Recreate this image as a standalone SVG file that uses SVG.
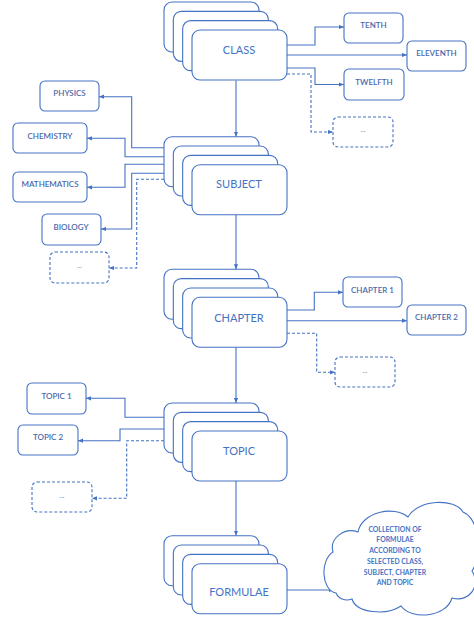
<svg xmlns="http://www.w3.org/2000/svg" width="474" height="617" viewBox="0 0 474 617">
<defs>
<style>
.card{fill:#fff;stroke:#4472C4;stroke-width:1.1}
.box{fill:#fff;stroke:#4472C4;stroke-width:1.1}
.dbox{fill:#fff;stroke:#4472C4;stroke-width:1.1;stroke-dasharray:3 2}
.big{font-family:Lato,"Liberation Sans",sans-serif;font-size:11px;fill:#4472C4;text-anchor:middle}
.sm{font-family:Lato,"Liberation Sans",sans-serif;font-size:8px;fill:#4A68AA;text-anchor:middle;font-weight:600}
.dots{font-family:Lato,"Liberation Sans",sans-serif;font-size:7px;fill:#6A84B8;text-anchor:middle}
.cl{font-family:Lato,"Liberation Sans",sans-serif;font-size:6.8px;fill:#4472C4;text-anchor:middle;font-weight:700}
.ln{fill:none;stroke:#4472C4;stroke-width:1.1}
.dl{fill:none;stroke:#4472C4;stroke-width:1.1;stroke-dasharray:3 2}
</style>
<marker id="a" viewBox="0 0 6 6" refX="6" refY="3" markerWidth="5" markerHeight="5" orient="auto" markerUnits="userSpaceOnUse">
<path d="M0,0.5 L6,3 L0,5.5 Z" fill="#4472C4"/>
</marker>
<g id="stack">
<rect class="card" x="0" y="0" width="95" height="50" rx="8"/>
<rect class="card" x="9.33" y="9.33" width="95" height="50" rx="8"/>
<rect class="card" x="18.67" y="18.67" width="95" height="50" rx="8"/>
<rect class="card" x="28" y="28" width="95" height="50" rx="8"/>
</g>
</defs>
<rect width="474" height="617" fill="#fff"/>

<g id="connectors">
<path class="ln" d="M287,45 H315 V27 H344" marker-end="url(#a)"/>
<path class="ln" d="M287,55 H407" marker-end="url(#a)"/>
<path class="ln" d="M287,68 H315 V84.5 H344" marker-end="url(#a)"/>
<path class="dl" d="M287,74 H311 V132 H333" marker-end="url(#a)"/>
<path class="ln" d="M236,80.5 V136.7" marker-end="url(#a)"/>

<path class="ln" d="M164,147.7 H131.7 V96.7 H99" marker-end="url(#a)"/>
<path class="ln" d="M164,156.7 H125 V138.3 H87" marker-end="url(#a)"/>
<path class="ln" d="M164,164.3 H125 V187.3 H87" marker-end="url(#a)"/>
<path class="ln" d="M164,173.3 H131.7 V229 H101" marker-end="url(#a)"/>
<path class="dl" d="M164,179.3 H136.7 V268 H109" marker-end="url(#a)"/>
<path class="ln" d="M236,214.7 V269.3" marker-end="url(#a)"/>

<path class="ln" d="M287,310 H314.3 V292.3 H343" marker-end="url(#a)"/>
<path class="ln" d="M287,320.7 H407" marker-end="url(#a)"/>
<path class="dl" d="M287,333.3 H316.7 V372.3 H335" marker-end="url(#a)"/>
<path class="ln" d="M236,347.3 V403" marker-end="url(#a)"/>

<path class="ln" d="M164,417.3 H125 V398.3 H86" marker-end="url(#a)"/>
<path class="ln" d="M164,429 H120 V440.7 H78" marker-end="url(#a)"/>
<path class="dl" d="M164,440.7 H126.7 V498.3 H92" marker-end="url(#a)"/>
<path class="ln" d="M236,481 V535.7" marker-end="url(#a)"/>

<path class="ln" d="M287,590 H334" marker-end="url(#a)"/>
</g>

<g id="class">
<use href="#stack" x="164" y="2"/>
<text class="big" x="239" y="54">CLASS</text>
</g>
<g id="tenth"><rect class="box" x="344" y="13" width="59" height="30" rx="5"/><text class="sm" x="373.5" y="28">TENTH</text></g>
<g id="eleventh"><rect class="box" x="407" y="41" width="59" height="30" rx="5"/><text class="sm" x="436.5" y="56">ELEVENTH</text></g>
<g id="twelfth"><rect class="box" x="344" y="69" width="60" height="31" rx="5"/><text class="sm" x="374" y="84.5">TWELFTH</text></g>
<g id="class-more"><rect class="dbox" x="333" y="117" width="60" height="30" rx="5"/><text class="dots" x="363" y="132">...</text></g>

<g id="subject">
<use href="#stack" x="164" y="136.7"/>
<text class="big" x="239" y="188.3">SUBJECT</text>
</g>
<g id="physics"><rect class="box" x="40" y="81" width="59" height="30" rx="5"/><text class="sm" x="69.5" y="96.3">PHYSICS</text></g>
<g id="chemistry"><rect class="box" x="13" y="123" width="74" height="30" rx="5"/><text class="sm" x="50" y="139">CHEMISTRY</text></g>
<g id="mathematics"><rect class="box" x="13" y="172" width="74" height="30" rx="5"/><text class="sm" x="50" y="187">MATHEMATICS</text></g>
<g id="biology"><rect class="box" x="42" y="214" width="59" height="31" rx="5"/><text class="sm" x="71" y="229.7">BIOLOGY</text></g>
<g id="subject-more"><rect class="dbox" x="50" y="252" width="59" height="31" rx="5"/><text class="dots" x="79.5" y="268">...</text></g>

<g id="chapter">
<use href="#stack" x="164" y="269.3"/>
<text class="big" x="239" y="322.3">CHAPTER</text>
</g>
<g id="chapter1"><rect class="box" x="343" y="277" width="59" height="30" rx="5"/><text class="sm" x="372.5" y="292.7">CHAPTER 1</text></g>
<g id="chapter2"><rect class="box" x="407" y="305" width="59" height="30" rx="5"/><text class="sm" x="436.5" y="320">CHAPTER 2</text></g>
<g id="chapter-more"><rect class="dbox" x="335" y="357" width="60" height="30" rx="5"/><text class="dots" x="365" y="372.5">...</text></g>

<g id="topic">
<use href="#stack" x="164" y="403"/>
<text class="big" x="239" y="455">TOPIC</text>
</g>
<g id="topic1"><rect class="box" x="27" y="383" width="59" height="31" rx="5"/><text class="sm" x="56.5" y="398.7">TOPIC 1</text></g>
<g id="topic2"><rect class="box" x="18" y="425" width="60" height="30" rx="5"/><text class="sm" x="48" y="440.3">TOPIC 2</text></g>
<g id="topic-more"><rect class="dbox" x="32" y="482" width="60" height="30" rx="5"/><text class="dots" x="62" y="498">...</text></g>

<g id="formulae">
<use href="#stack" x="164" y="535.7"/>
<text class="big" x="239" y="596.3">FORMULAE</text>
</g>

<g id="collection">
<path class="box" d="M336,593 C321,590 320,560 333,552 C329,538 345,527 358,532 C362,512 394,505 408,517 C418,499 455,498 463,512 C481,520 481,558 472,571 C481,585 470,603 452,598 C446,618 411,620 401,606 C386,616 356,613 352,599 C345,602 338,598 336,593 Z"/>
<text class="cl" x="395" y="531.7">COLLECTION OF</text>
<text class="cl" x="395" y="542.4">FORMULAE</text>
<text class="cl" x="395" y="553.1">ACCORDING TO</text>
<text class="cl" x="395" y="563.8">SELECTED CLASS,</text>
<text class="cl" x="395" y="574.5">SUBJECT, CHAPTER</text>
<text class="cl" x="395" y="585.2">AND TOPIC</text>
</g>
</svg>
